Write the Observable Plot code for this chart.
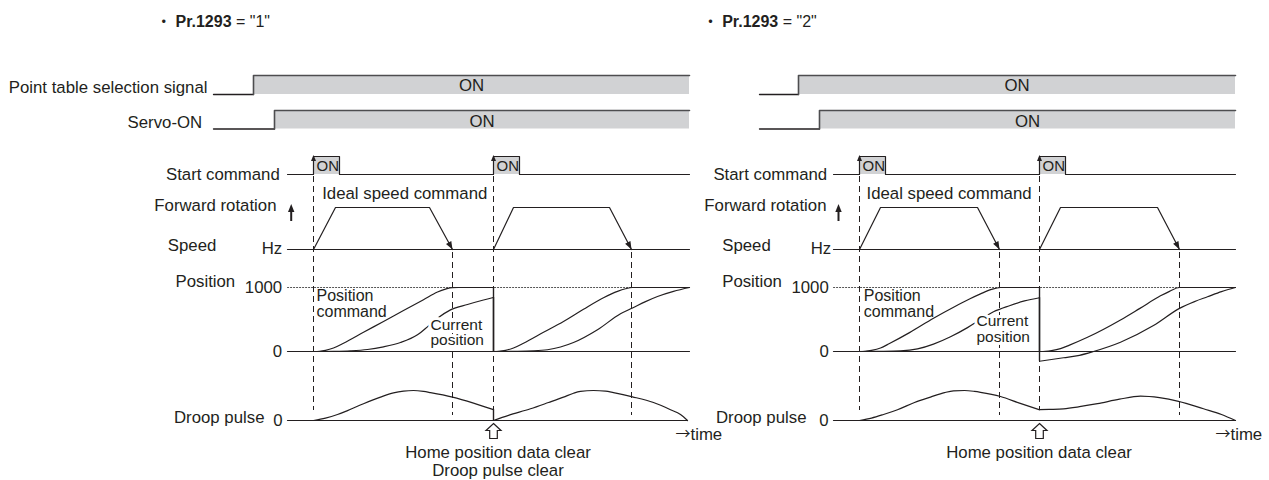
<!DOCTYPE html>
<html><head><meta charset="utf-8">
<script src="https://cdn.jsdelivr.net/npm/d3@7"></script>
<script src="https://cdn.jsdelivr.net/npm/@observablehq/plot@0.6"></script>
<style>html,body{margin:0;padding:0;background:#fff}svg{display:block}</style>
</head><body><div id="chart"></div>
<script>
// ================= DATA (schematic time units, 0 = first start command) =================
const panels = ["1", "2"];
const paramName = "Pr.1293";
const signalNames = ["Point table selection signal", "Servo-ON"];
const signalOnTime = { "1": [-60, -39], "2": [-61, -40] };
const startTimes = { "1": [0, 180], "2": [0, 180] };
const startPulseWidth = 26;
const speedCycles = {
  "1": [[[0,0],[22,1],[116,1],[139,0]], [[180,0],[200,1],[296,1],[318,0]]],
  "2": [[[0,0],[21,1],[118,1],[140,0]], [[180,0],[201,1],[298,1],[320,0]]]
};
const positionTicks = [0, 1000];
const positionCommand = {
  "1": [
    [[0,0],[6,4],[12,18],[20,55],[30,130],[50,300],[70,470],[90,640],[110,810],[124,930],[132,975],[139,998],[145,1000],[180,1000]],
    [[180,0],[186,4],[192,18],[200,55],[210,130],[230,300],[250,470],[270,660],[290,840],[304,940],[312,980],[319,1000],[376,1000]]
  ],
  "2": [
    [[0,0],[6,4],[12,18],[21,55],[30,125],[50,295],[74,520],[95,700],[110,820],[121,900],[132,970],[141,1000],[180,1000]],
    [[180,0],[186,4],[192,15],[201,45],[210,100],[228,222],[261,493],[280,670],[301,870],[310,940],[320,1000],[376,1000]]
  ]
};
const currentPosition = {
  "1": [
    [[0,0],[20,3],[37,11],[54,31],[70,73],[87,141],[104,261],[115,400],[125,530],[137,650],[154,735],[170,805],[180,844]],
    [[180,0],[200,3],[220,10],[234,27],[247,70],[260,140],[284,340],[307,590],[319,680],[332,780],[344,860],[360,940],[376,1000]]
  ],
  "2": [
    [[0,0],[20,3],[41,10],[58,40],[74,115],[91,230],[108,373],[121,500],[134,620],[150,715],[165,790],[180,840]],
    [[180,-152],[204,-98],[220,-60],[234,0],[261,145],[294,405],[320,674],[335,780],[348,855],[362,935],[376,1000]]
  ]
};
const droopPulse = {
  "1": [
    [[0,0],[12,8],[24,20],[34,33],[50,56],[67,78],[80,92],[90,98],[100,100],[110,97],[117,93],[139,78],[160,58],[180,36]],
    [[180,0],[195,17],[217,39],[235,60],[250,78],[260,91],[267,97],[280,100],[292,98],[300,93],[319,79],[340,60],[357,36],[367,20],[374,0]]
  ],
  "2": [
    [[0,0],[12,8],[24,20],[38,36],[55,60],[71,78],[85,93],[94,99],[105,100],[115,97],[121,94],[141,80],[160,58],[180,36]],
    [[180,36],[190,37],[204,39],[220,46],[238,56],[260,71],[281,81],[300,76],[319,64],[344,39],[362,20],[376,0]]
  ]
};
const clearTime = 180;
const rowLabels = ["Start command", "Ideal speed command", "Forward rotation", "Speed", "Hz", "Position", "Position\ncommand", "Current\nposition", "Droop pulse", "time"];
const clearTexts = { "1": "Home position data clear\nDroop pulse clear", "2": "Home position data clear" };

// ================= LAYOUT / STYLE =================
const W = 1269, H = 480;
const X0 = 313;                        // where t = 0 of panel 1 sits
const SHIFT = { "1": 0, "2": 546 };    // panel offset
const T_SIG0 = -100, T_ROW0 = -26, T_END = 376;
const ROW = {
  table: { base: 94, top: 75 }, servo: { base: 128.5, top: 110 },
  start: { base: 174, top: 156 }, speed: { base: 249, top: 207 },
  pos: { base: 351, top: 287, full: 1000 }, droop: { base: 420, top: 390, full: 100 }
};
const FONT = "'Liberation Sans', Arial, Helvetica, 'Noto Sans CJK JP', sans-serif";
const FS = 16.8;
const INK = "#231f20", EDGE = "#4d4d4f", FILL = "#d1d2d4";
const xOf = (p, t) => t + SHIFT[p];
const lvl = (row, v) => { const r = ROW[row]; return r.base - (r.base - r.top) * v / (r.full || 1); };

// per-panel label layout (t, y, anchor)
const L = {
  "1": { table: -106, servo: -111.3, start: -33.7, ideal: 8.7, fwd: -37, arrow: -22.3, speed: -145.7, hz: -31.3,
         position: -138, tick: -31.3, cmd: 3, cur: 117, curY: 332, droop: -49, droop0: -31, time: 362, clear: 184.5,
         dot: -149.7, pr: -138 },
  "2": { start: -32.3, ideal: 7, fwd: -33, arrow: -21, speed: -137.3, hz: -28.3,
         position: -137.3, tick: -30.7, cmd: 4.3, cur: 117, curY: 328.5, droop: -53, droop0: -31, time: 356, clear: 179.5,
         dot: -149, pr: -137.3 }
};

// ================= BUILD RECORDS =================
const sigKeys = ["table", "servo"];
const sigRects = [], sigLow = [], sigHigh = [];
for (const p of panels) signalOnTime[p].forEach((on, i) => {
  const k = sigKeys[i], z = p + k;
  sigRects.push({ x1: xOf(p, on), x2: xOf(p, T_END), y1: ROW[k].top, y2: ROW[k].base });
  sigLow.push({ z, x: xOf(p, T_SIG0), y: lvl(k, 0) }, { z, x: xOf(p, on), y: lvl(k, 0) });
  sigHigh.push({ z, x: xOf(p, on), y: lvl(k, 0) }, { z, x: xOf(p, on), y: lvl(k, 1) }, { z, x: xOf(p, T_END), y: lvl(k, 1) });
});

const startLine = [], startRects = [], startTips = [];
for (const p of panels) {
  startLine.push({ z: p, x: xOf(p, T_ROW0), y: lvl("start", 0) });
  for (const s of startTimes[p]) {
    const e = s + startPulseWidth;
    startLine.push({ z: p, x: xOf(p, s), y: lvl("start", 0) }, { z: p, x: xOf(p, s), y: lvl("start", 1) },
                   { z: p, x: xOf(p, e), y: lvl("start", 1) }, { z: p, x: xOf(p, e), y: lvl("start", 0) });
    startRects.push({ x1: xOf(p, s), x2: xOf(p, e), y1: lvl("start", 1), y2: lvl("start", 0) });
    startTips.push({ x: xOf(p, s), y: lvl("start", 1) });
  }
  startLine.push({ z: p, x: xOf(p, T_END), y: lvl("start", 0) });
}

const rowLines = [];
for (const p of panels) for (const row of ["speed", "pos", "droop"]) {
  const end = row === "droop" ? (p === "1" ? 374 : T_END) : T_END;
  rowLines.push({ z: p + row, x: xOf(p, T_ROW0), y: lvl(row, 0) }, { z: p + row, x: xOf(p, end), y: lvl(row, 0) });
}
const refLines = panels.flatMap(p => [{ z: p, x: xOf(p, T_ROW0), y: lvl("pos", positionTicks[1]) }, { z: p, x: xOf(p, T_END), y: lvl("pos", positionTicks[1]) }]);

const speedPts = [], speedHeads = [];
for (const p of panels) speedCycles[p].forEach((cyc, ci) => {
  cyc.forEach(([t, v]) => speedPts.push({ z: p + ci, x: xOf(p, t), y: lvl("speed", v) }));
  const [ta, va] = cyc[cyc.length - 2], [tb, vb] = cyc[cyc.length - 1];
  const dx = tb - ta, dy = lvl("speed", vb) - lvl("speed", va);
  speedHeads.push({ x: xOf(p, tb), y: lvl("speed", vb), a: -Math.atan2(dx, dy) * 180 / Math.PI });
});

function series(src, row) {
  const pts = [], jumps = [];
  for (const p of panels) src[p].forEach((seg, si) => {
    seg.forEach(([t, v]) => pts.push({ z: p + si, x: xOf(p, t), y: lvl(row, v) }));
    if (si > 0) {
      const prev = src[p][si - 1][src[p][si - 1].length - 1];
      if (prev[1] !== seg[0][1]) jumps.push({ x: xOf(p, seg[0][0]), y1: lvl(row, prev[1]), y2: lvl(row, seg[0][1]) });
    }
  });
  return { pts, jumps };
}
const cmd = series(positionCommand, "pos");
const cur = series(currentPosition, "pos");
const drp = series(droopPulse, "droop");

const dashes = [];
for (const p of panels) {
  for (const s of startTimes[p]) dashes.push({ x: xOf(p, s), y1: 176, y2: 410 });
  for (const cyc of speedCycles[p]) dashes.push({ x: xOf(p, cyc[cyc.length - 1][0]), y1: 252, y2: 415 });
}
const clearArrows = panels.map(p => ({ x: xOf(p, clearTime), y: 423 }));
const fwdArrows = panels.map(p => ({ x: xOf(p, L[p].arrow), y1: 221, y2: 209, yh: 203.5 }));

// text records
const endTexts = [], startTexts = [], midTexts = [];
endTexts.push({ x: xOf("1", L["1"].table), y: 87.5, text: signalNames[0] });
endTexts.push({ x: xOf("1", L["1"].servo), y: 122.5, text: signalNames[1] });
for (const p of panels) {
  const l = L[p];
  signalOnTime[p].forEach((on, i) => midTexts.push({ x: xOf(p, (on + T_END) / 2), y: i ? 121.5 : 85.5, text: "ON" }));
  endTexts.push({ x: xOf(p, l.start), y: 174, text: rowLabels[0] });
  startTexts.push({ x: xOf(p, l.ideal), y: 193.5, text: rowLabels[1] });
  endTexts.push({ x: xOf(p, l.fwd), y: 205.5, text: rowLabels[2] });
  startTexts.push({ x: xOf(p, l.speed), y: 244.7, text: rowLabels[3] });
  endTexts.push({ x: xOf(p, l.hz), y: 247.7, text: rowLabels[4] });
  startTexts.push({ x: xOf(p, l.position), y: 280.8, text: rowLabels[5] });
  positionTicks.forEach(v => endTexts.push({ x: xOf(p, l.tick), y: lvl("pos", v) + 0.3, text: String(v) }));
  endTexts.push({ x: xOf(p, l.droop), y: 417, text: rowLabels[8] });
  endTexts.push({ x: xOf(p, l.droop0), y: 420.3, text: "0" });
  startTexts.push({ x: xOf(p, l.time + 15), y: 434, text: rowLabels[9] });
}
const arrowTexts = panels.map(p => ({ x: xOf(p, L[p].time), y: 433.5, text: "→" }));
const cmdTexts = panels.map(p => ({ x: xOf(p, L[p].cmd), y: 303, text: rowLabels[6] }));
const curTexts = panels.map(p => ({ x: xOf(p, L[p].cur), y: L[p].curY, text: rowLabels[7] }));
const clearLabel = panels.map(p => ({ x: xOf(p, L[p].clear), y: 444, text: clearTexts[p] }));
const pulseOn = panels.flatMap(p => startTimes[p].map(s => ({ x: xOf(p, s + 3), y: 166, text: "ON" })));

// titles
const ctx = document.createElement("canvas").getContext("2d");
ctx.font = `bold 16px ${FONT}`;
const prW = ctx.measureText(paramName).width;
const titleDot = panels.map(p => ({ x: xOf(p, L[p].dot), y: 21.7, text: "・" }));
const titleBold = panels.map(p => ({ x: xOf(p, L[p].pr), y: 21.7, text: paramName }));
const titleRest = panels.map(p => ({ x: xOf(p, L[p].pr) + prW, y: 21.7, text: ` = "${p}"` }));

// symbols
const upHead = { draw(c) { c.moveTo(0, -1.5); c.lineTo(2.5, 4.5); c.lineTo(-2.5, 4.5); c.closePath(); } };
const bigUpHead = { draw(c) { c.moveTo(0, 0); c.lineTo(3.2, 8); c.lineTo(-3.2, 8); c.closePath(); } };
const downHead = { draw(c) { c.moveTo(0, 0); c.lineTo(3, -8); c.lineTo(-3, -8); c.closePath(); } };
const hollowUp = { draw(c) { c.moveTo(0, 0); c.lineTo(7.5, 7); c.lineTo(3.8, 7); c.lineTo(3.8, 15); c.lineTo(-3.8, 15); c.lineTo(-3.8, 7); c.lineTo(-7.5, 7); c.closePath(); } };

const T = (data, o) => Plot.text(data, { x: "x", y: "y", text: "text", fill: INK, fontSize: FS, lineAnchor: "middle", ...o });

const chart = Plot.plot({
  width: W, height: H, margin: 0,
  x: { domain: [-X0, W - X0], range: [0, W], axis: null },
  y: { domain: [0, H], range: [0, H], axis: null },
  style: { fontFamily: FONT, fontSize: FS + "px", background: "#fff", color: INK },
  marks: [
    Plot.rect(sigRects, { x1: "x1", x2: "x2", y1: "y1", y2: "y2", fill: FILL }),
    Plot.rect(startRects, { x1: "x1", x2: "x2", y1: "y1", y2: "y2", fill: FILL }),
    Plot.line(sigLow, { x: "x", y: "y", z: "z", stroke: INK, strokeWidth: 1.3 }),
    Plot.line(sigHigh, { x: "x", y: "y", z: "z", stroke: EDGE, strokeWidth: 1.6 }),
    Plot.line(startLine, { x: "x", y: "y", z: "z", stroke: INK, strokeWidth: 1.2 }),
    Plot.dot(startTips, { x: "x", y: "y", symbol: upHead, fill: INK, stroke: "none" }),
    Plot.line(refLines, { x: "x", y: "y", z: "z", stroke: "#555", strokeWidth: 1, strokeDasharray: "1.2,1.8" }),
    Plot.line(rowLines, { x: "x", y: "y", z: "z", stroke: INK, strokeWidth: 1.2 }),
    Plot.ruleX(dashes, { x: "x", y1: "y1", y2: "y2", stroke: INK, strokeWidth: 1, strokeDasharray: "6,4" }),
    Plot.line(speedPts, { x: "x", y: "y", z: "z", stroke: INK, strokeWidth: 1.2 }),
    Plot.dot(speedHeads, { x: "x", y: "y", rotate: "a", symbol: downHead, fill: INK, stroke: "none" }),
    Plot.line(cmd.pts, { x: "x", y: "y", z: "z", curve: "monotone-x", stroke: INK, strokeWidth: 1.2 }),
    Plot.line(cur.pts, { x: "x", y: "y", z: "z", curve: "monotone-x", stroke: INK, strokeWidth: 1.2 }),
    Plot.ruleX([...cmd.jumps, ...cur.jumps], { x: "x", y1: "y1", y2: "y2", stroke: INK, strokeWidth: 1.4 }),
    Plot.line(drp.pts, { x: "x", y: "y", z: "z", curve: "monotone-x", stroke: INK, strokeWidth: 1.2 }),
    Plot.ruleX(drp.jumps, { x: "x", y1: "y1", y2: "y2", stroke: INK, strokeWidth: 1.4 }),
    Plot.ruleX(fwdArrows, { x: "x", y1: "y1", y2: "y2", stroke: INK, strokeWidth: 2 }),
    Plot.dot(fwdArrows, { x: "x", y: "yh", symbol: bigUpHead, fill: INK, stroke: "none" }),
    Plot.dot(clearArrows, { x: "x", y: "y", symbol: hollowUp, fill: "#fff", stroke: INK, strokeWidth: 1.2 }),
    T(endTexts, { textAnchor: "end" }),
    T(startTexts, { textAnchor: "start" }),
    T(midTexts, { textAnchor: "middle" }),
    T(arrowTexts, { textAnchor: "start", fontSize: 15, fontFamily: "'Noto Sans CJK JP', 'DejaVu Sans', sans-serif" }),
    T(cmdTexts, { textAnchor: "start", fontSize: 16, lineHeight: 1.0 }),
    T(curTexts, { textAnchor: "start", fontSize: 15.5, lineHeight: 1.0, stroke: "#fff", strokeWidth: 6, paintOrder: "stroke" }),
    T(clearLabel, { textAnchor: "middle", lineAnchor: "top", lineHeight: 1.1 }),
    T(pulseOn, { textAnchor: "start", fontSize: 15, fontFamily: "'Liberation Sans Narrow', " + FONT }),
    T(titleDot, { textAnchor: "middle", fontSize: 16 }),
    T(titleBold, { textAnchor: "start", fontSize: 16, fontWeight: "bold" }),
    T(titleRest, { textAnchor: "start", fontSize: 16 })
  ]
});
document.getElementById("chart").appendChild(chart);
</script>
</body></html>
